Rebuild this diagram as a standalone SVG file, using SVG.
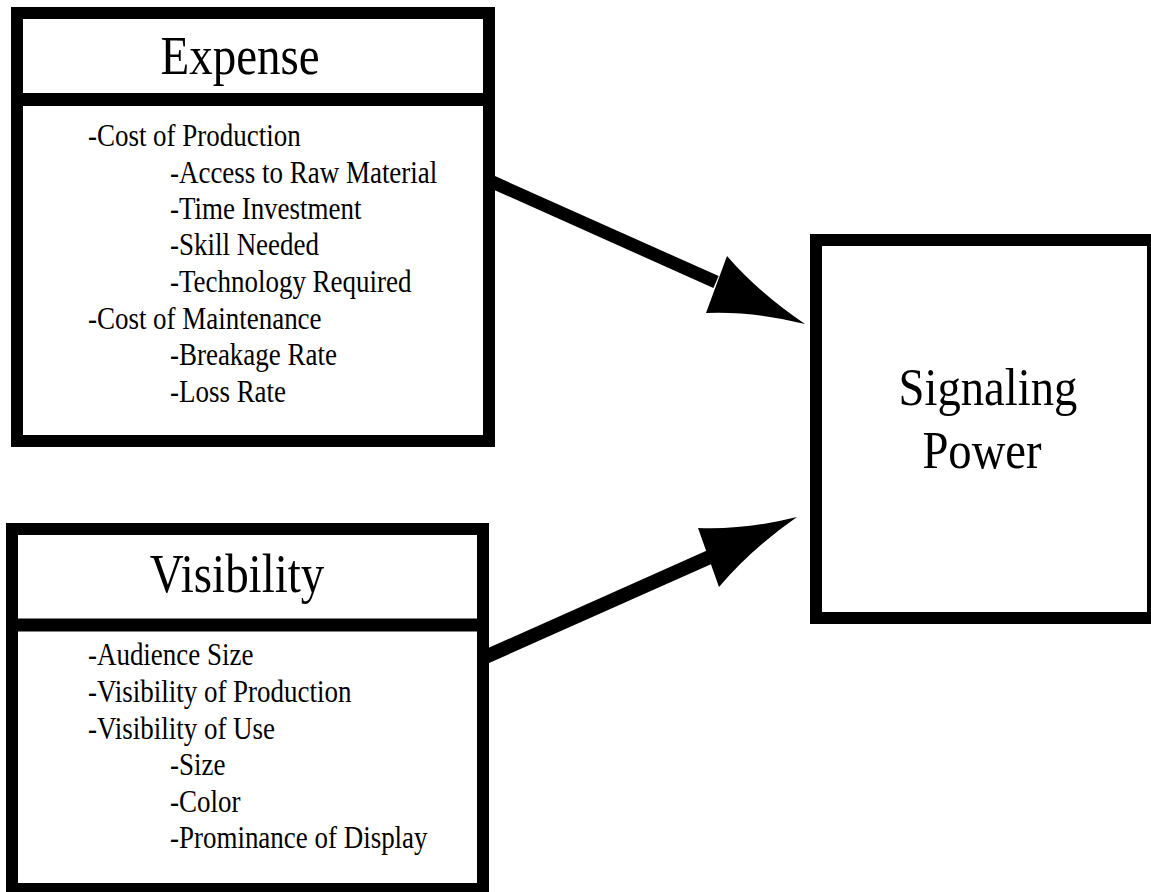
<svg xmlns="http://www.w3.org/2000/svg" width="1151" height="892" viewBox="0 0 1151 892">
<style>
.box{fill:#fff;stroke:#000;stroke-width:12}
.div{stroke:#000;stroke-width:13}
.title{font-family:"Liberation Serif","Times New Roman",serif;font-size:54px;fill:#000;text-anchor:middle}
.item{font-family:"Liberation Serif","Times New Roman",serif;font-size:31px;fill:#000}
.conn{stroke:#000;fill:none}
.head{fill:#000}
</style>
<rect width="1151" height="892" fill="#fff"/>
<g id="expense">
<rect class="box" x="17" y="13" width="472" height="428"/>
<line class="div" x1="17" y1="99.5" x2="489" y2="99.5"/>
<g transform="scale(0.87,1)">
<text class="title" x="275.9" y="74">Expense</text>
<text class="item" x="101.1" y="146">-Cost of Production</text>
<text class="item" x="195.4" y="183">-Access to Raw Material</text>
<text class="item" x="195.4" y="219">-Time Investment</text>
<text class="item" x="195.4" y="255">-Skill Needed</text>
<text class="item" x="195.4" y="292">-Technology Required</text>
<text class="item" x="101.1" y="329">-Cost of Maintenance</text>
<text class="item" x="195.4" y="365">-Breakage Rate</text>
<text class="item" x="195.4" y="402">-Loss Rate</text>
</g>
</g>
<g id="visibility">
<rect class="box" x="12" y="529" width="471" height="360"/>
<line class="div" x1="12" y1="625" x2="483" y2="625"/>
<g transform="scale(0.87,1)">
<text class="title" x="272.4" y="592">Visibility</text>
<text class="item" x="101.1" y="665">-Audience Size</text>
<text class="item" x="101.1" y="702">-Visibility of Production</text>
<text class="item" x="101.1" y="739">-Visibility of Use</text>
<text class="item" x="195.4" y="775">-Size</text>
<text class="item" x="195.4" y="812">-Color</text>
<text class="item" x="195.4" y="848">-Prominance of Display</text>
</g>
</g>
<g id="signaling">
<rect class="box" x="816" y="240" width="337" height="378"/>
<g transform="scale(0.88,1)">
<text class="title" x="1122.7" y="405" style="font-size:53px">Signaling</text>
<text class="title" x="1115.9" y="468" style="font-size:53px">Power</text>
</g>
</g>
<g id="connectors">
<line class="conn" x1="489" y1="180.5" x2="716" y2="282" stroke-width="13"/>
<path class="head" d="M805,324 Q759,293 727,256 L706,313 Q752,311 805,324 Z"/>
<line class="conn" x1="483" y1="658" x2="712" y2="556" stroke-width="14"/>
<path class="head" d="M797,517 Q745,530 698,528 L719,587 Q751,549 797,517 Z"/>
</g>
</svg>
